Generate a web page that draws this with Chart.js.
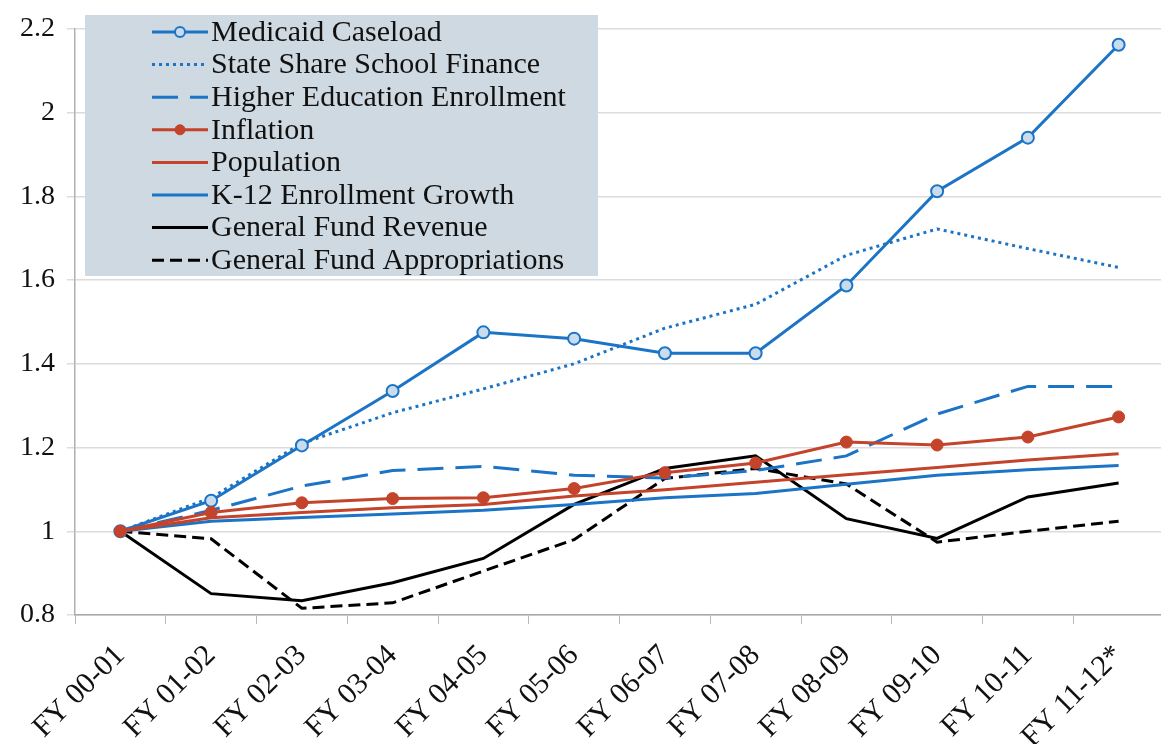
<!DOCTYPE html>
<html>
<head>
<meta charset="utf-8">
<script src="https://cdn.jsdelivr.net/npm/chart.js@4.4.1/dist/chart.umd.min.js"></script>
<style>
  html, body { margin: 0; padding: 0; background: #fff; overflow: hidden; }
  #wrap { width: 1172px; height: 744px; }
</style>
</head>
<body>
<div id="wrap"><canvas id="chart" width="1172" height="744"></canvas></div>
<script>
const fiscalYears = ['FY 00-01', 'FY 01-02', 'FY 02-03', 'FY 03-04', 'FY 04-05', 'FY 05-06',
  'FY 06-07', 'FY 07-08', 'FY 08-09', 'FY 09-10', 'FY 10-11', 'FY 11-12*'];

const medicaidCaseload   = [1.0, 1.073, 1.205, 1.335, 1.475, 1.46, 1.425, 1.425, 1.587, 1.812, 1.94, 2.162];
const stateShareSchool   = [1.0, 1.08, 1.21, 1.283, 1.34, 1.4, 1.485, 1.542, 1.659, 1.722, 1.675, 1.63];
const higherEdEnrollment = [1.0, 1.05, 1.108, 1.145, 1.155, 1.134, 1.127, 1.145, 1.18, 1.28, 1.346, 1.346];
const inflation          = [1.0, 1.045, 1.068, 1.078, 1.08, 1.102, 1.14, 1.163, 1.213, 1.206, 1.225, 1.273];
const population         = [1.0, 1.032, 1.045, 1.056, 1.064, 1.084, 1.099, 1.117, 1.135, 1.152, 1.17, 1.185];
const k12Enrollment      = [1.0, 1.024, 1.033, 1.041, 1.05, 1.064, 1.08, 1.09, 1.112, 1.134, 1.147, 1.157];
const gfRevenue          = [1.0, 0.851, 0.834, 0.877, 0.935, 1.064, 1.15, 1.18, 1.03, 0.983, 1.082, 1.115];
const gfAppropriations   = [1.0, 0.982, 0.816, 0.829, 0.905, 0.98, 1.126, 1.15, 1.113, 0.974, 1.0, 1.024];

const yTicks = [0.8, 1, 1.2, 1.4, 1.6, 1.8, 2, 2.2];

const BLUE = '#1b74c6';
const RED = '#c4432b';
const serif = '"Liberation Serif", "DejaVu Serif", serif';

function line(label, data, color, extra) {
  return Object.assign({
    label: label,
    data: data,
    borderColor: color,
    backgroundColor: color,
    borderWidth: 3,
    pointRadius: 0,
    fill: false,
    tension: 0
  }, extra || {});
}

// legend drawn inside the plot, on a grey box
const boxLegend = {
  id: 'boxLegend',
  beforeDatasetsDraw(chart) {
    const ctx = chart.ctx;
    ctx.save();
    ctx.fillStyle = '#cfd9e1';
    ctx.fillRect(85, 15, 513, 261);
    ctx.font = '30px ' + serif;
    ctx.textBaseline = 'middle';
    chart.data.datasets.forEach((ds, i) => {
      const y = 32 + i * 32.6;
      ctx.strokeStyle = ds.borderColor;
      ctx.lineWidth = ds.borderWidth;
      ctx.setLineDash(ds.borderDash || []);
      ctx.beginPath();
      ctx.moveTo(152, y);
      ctx.lineTo(208, y);
      ctx.stroke();
      ctx.setLineDash([]);
      if (ds.pointRadius > 0) {
        ctx.beginPath();
        ctx.arc(180, y, ds.pointRadius - 1, 0, Math.PI * 2);
        ctx.fillStyle = ds.pointBackgroundColor;
        ctx.fill();
        ctx.lineWidth = ds.pointBorderWidth;
        ctx.strokeStyle = ds.pointBorderColor;
        ctx.stroke();
      }
      ctx.fillStyle = '#111';
      ctx.fillText(ds.label, 211, y + 1);
    });
    ctx.restore();
  }
};

new Chart(document.getElementById('chart'), {
  type: 'line',
  data: {
    labels: fiscalYears,
    datasets: [
      line('Medicaid Caseload', medicaidCaseload, BLUE, {
        pointRadius: 6, pointBackgroundColor: '#c9dcee', pointBorderColor: BLUE, pointBorderWidth: 2, order: 2
      }),
      line('State Share School Finance', stateShareSchool, BLUE, { borderDash: [3, 4], borderWidth: 3, order: 3 }),
      line('Higher Education Enrollment', higherEdEnrollment, BLUE, { borderDash: [26, 12], order: 4 }),
      line('Inflation', inflation, RED, {
        pointRadius: 6, pointBackgroundColor: RED, pointBorderColor: RED, pointBorderWidth: 1, order: 1
      }),
      line('Population', population, RED, { order: 5 }),
      line('K-12 Enrollment Growth', k12Enrollment, BLUE, { order: 6 }),
      line('General Fund Revenue', gfRevenue, '#000', { order: 7 }),
      line('General Fund Appropriations', gfAppropriations, '#000', { borderDash: [12, 6], order: 8 })
    ]
  },
  options: {
    responsive: false,
    animation: false,
    layout: { padding: { top: 15, right: 0, left: 0, bottom: 0 } },
    plugins: {
      legend: { display: false },
      tooltip: { enabled: false }
    },
    scales: {
      x: {
        offset: true,
        grid: { drawOnChartArea: false, offset: true, tickLength: 9, color: '#b8b8b8' },
        border: { color: '#a8a8a8', width: 1.5 },
        ticks: {
          autoSkip: false,
          minRotation: 45,
          maxRotation: 45,
          padding: 14,
          color: '#111',
          font: { family: serif, size: 30 }
        },
        afterFit(scale) { scale.height = 129; }
      },
      y: {
        min: 0.8,
        max: 2.2,
        afterBuildTicks(scale) { scale.ticks = yTicks.map(v => ({ value: v })); },
        grid: { color: '#dcdcdc', lineWidth: 1.5, tickLength: 8 },
        border: { color: '#b0b0b0', width: 1.5 },
        ticks: {
          padding: 12,
          color: '#111',
          font: { family: serif, size: 28 },
          callback: v => String(+v.toFixed(1))
        },
        afterFit(scale) { scale.width = 75; }
      }
    }
  },
  plugins: [boxLegend]
});
</script>
</body>
</html>
